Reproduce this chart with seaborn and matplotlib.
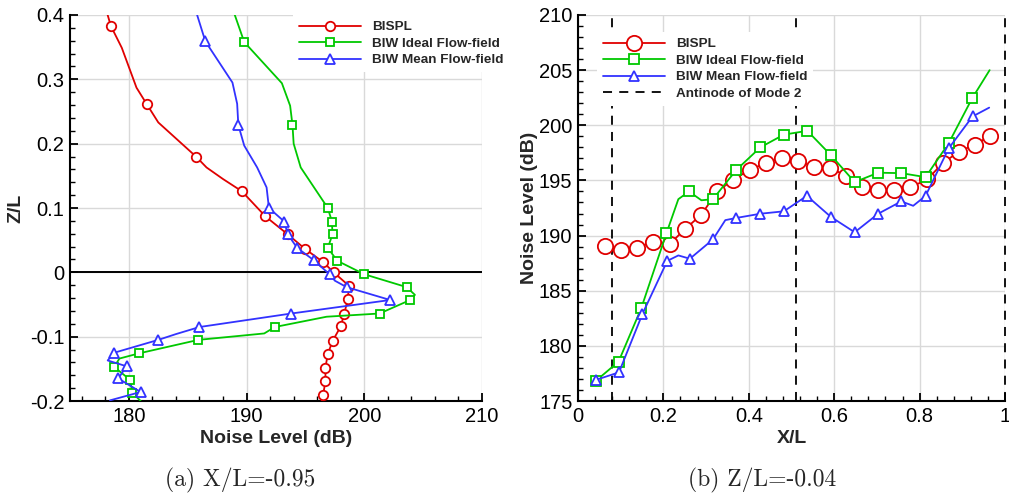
import numpy as np
import pandas as pd
import matplotlib
matplotlib.use("Agg")
import matplotlib.pyplot as plt
import seaborn as sns
from matplotlib.lines import Line2D
from matplotlib.ticker import MultipleLocator, FuncFormatter

# ---------------- data: panel (a) X/L=-0.95 (noise level vs Z/L) ----------------
bispl_a_noise = [178.2, 178.47, 179.4, 180.65, 181.5, 182.5, 185.7, 186.6, 188.0, 189.6, 191.6, 193.5,
                 195.0, 196.5, 197.4, 198.7, 198.6, 198.3, 198.0, 197.3, 196.9, 196.7, 196.7, 196.5, 196.4]
bispl_a_z = [0.40, 0.383, 0.349, 0.287, 0.262, 0.233, 0.180, 0.163, 0.145, 0.126, 0.087, 0.059,
             0.036, 0.016, 0.0, -0.021, -0.042, -0.064, -0.084, -0.107, -0.127, -0.148, -0.169, -0.191, -0.20]
bispl_a_marks = [1, 4, 6, 9, 10, 11, 12, 13, 14, 15, 16, 17, 18, 19, 20, 21, 22, 23]

ideal_a_noise = [189.0, 189.8, 193.0, 193.7, 193.9, 194.0, 194.6, 196.9, 197.25, 197.3, 196.9, 197.7, 200.0,
                 203.6, 204.3, 203.9, 201.3, 196.8, 192.4, 191.5, 185.9, 180.85, 179.2, 178.75, 180.1, 180.3, 181.0]
ideal_a_z = [0.40, 0.358, 0.294, 0.259, 0.229, 0.20, 0.163, 0.100, 0.079, 0.059, 0.038, 0.018, -0.003,
             -0.023, -0.035, -0.043, -0.064, -0.069, -0.085, -0.095, -0.105, -0.126, -0.134, -0.147, -0.167, -0.187, -0.20]
ideal_a_marks = [1, 4, 7, 8, 9, 10, 11, 12, 13, 15, 16, 18, 20, 21, 23, 24, 25]

mean_a_noise = [185.8, 186.5, 188.8, 189.2, 189.3, 189.8, 190.9, 191.7, 191.9, 193.2, 193.5, 194.3, 195.7,
                197.05, 197.5, 198.5, 202.2, 193.8, 186.0, 184.0, 182.5, 178.75, 178.2, 179.8, 179.1, 181.0, 178.4]
mean_a_z = [0.40, 0.359, 0.295, 0.262, 0.229, 0.197, 0.163, 0.132, 0.100, 0.079, 0.059, 0.038, 0.019,
            -0.003, -0.013, -0.023, -0.043, -0.064, -0.085, -0.096, -0.105, -0.125, -0.137, -0.146, -0.165, -0.186, -0.199]
mean_a_marks = [1, 4, 8, 9, 10, 11, 12, 13, 15, 16, 17, 18, 20, 21, 23, 24, 25]

# ---------------- data: panel (b) Z/L=-0.04 (noise level vs X/L) ----------------
bispl_b_x = [0.0625, 0.1016, 0.138, 0.176, 0.215, 0.251, 0.289, 0.326, 0.363, 0.402, 0.44, 0.477, 0.515,
             0.552, 0.589, 0.628, 0.666, 0.703, 0.740, 0.778, 0.818, 0.855, 0.892, 0.929, 0.966]
bispl_b_noise = [189.02, 188.66, 188.9, 189.4, 189.25, 190.6, 191.9, 194.0, 195.05, 195.96, 196.56, 197.04, 196.8,
                 196.2, 196.14, 195.44, 194.4, 194.1, 194.1, 194.36, 195.1, 196.6, 197.6, 198.25, 199.06]

ideal_b_x = [0.041, 0.095, 0.148, 0.207, 0.235, 0.26, 0.289, 0.316, 0.371, 0.427, 0.482, 0.537, 0.592,
             0.648, 0.703, 0.757, 0.814, 0.868, 0.923, 0.964]
ideal_b_noise = [176.8, 178.57, 183.4, 190.2, 193.3, 194.0, 193.2, 193.3, 195.96, 198.0, 199.15, 199.5, 197.3,
                 194.85, 195.7, 195.66, 195.3, 198.37, 202.44, 205.0]
ideal_b_marks = [0, 1, 2, 3, 5, 7, 8, 9, 10, 11, 12, 13, 14, 15, 16, 17, 18]

mean_b_x = [0.041, 0.096, 0.151, 0.209, 0.235, 0.262, 0.316, 0.345, 0.371, 0.427, 0.482, 0.536, 0.592,
            0.648, 0.703, 0.757, 0.785, 0.814, 0.868, 0.924, 0.963]
mean_b_noise = [176.9, 177.6, 182.9, 187.7, 188.2, 187.9, 189.65, 191.4, 191.6, 191.98, 192.2, 193.6, 191.7,
                190.3, 191.98, 193.1, 192.7, 193.6, 197.9, 200.8, 201.6]
mean_b_marks = [0, 1, 2, 3, 5, 6, 8, 9, 10, 11, 12, 13, 14, 15, 17, 18, 19]

antinode_x = [0.08, 0.51, 1.0]

labels = ["BISPL", "BIW Ideal Flow-field", "BIW Mean Flow-field"]
antinode_label = "Antinode of Mode 2"

# ---------------- style ----------------
sns.set_theme(style="ticks")
plt.rcParams["font.family"] = ["Liberation Sans", "DejaVu Sans"]
plt.rcParams["axes.unicode_minus"] = False

RED, GREEN, BLUE = "#e00000", "#00c800", "#3232ff"
LW, MEW = 1.3, 1.3
TICK_FS = 14.5
LAB_FS = 14
LEG_FS = 9.7

fig = plt.figure(figsize=(10.09, 4.98), dpi=100)
W, H = 1009, 498
axL = fig.add_axes([70 / W, 1 - 401 / H, 412 / W, 386 / H])
axR = fig.add_axes([578 / W, 1 - 401 / H, 427 / W, 386 / H])


def draw(ax, x, y, color, marker, ms, marks):
    sns.lineplot(x=x, y=y, ax=ax, sort=False, estimator=None, color=color, lw=LW,
                 marker=marker, markersize=ms, markerfacecolor="white", markeredgecolor=color,
                 markeredgewidth=MEW, markevery=marks, legend=False, zorder=3)


# ---- panel (a)
axL.axhline(0, color="black", lw=1.4, zorder=1.5)
draw(axL, bispl_a_noise, bispl_a_z, RED, "o", 6.8, bispl_a_marks)
draw(axL, ideal_a_noise, ideal_a_z, GREEN, "s", 5.7, ideal_a_marks)
draw(axL, mean_a_noise, mean_a_z, BLUE, "^", 6.8, mean_a_marks)
axL.set_xlim(175, 210)
axL.set_ylim(-0.2, 0.4)
axL.xaxis.set_major_locator(MultipleLocator(10))
axL.xaxis.set_minor_locator(MultipleLocator(2))
axL.yaxis.set_major_locator(MultipleLocator(0.1))
axL.yaxis.set_minor_locator(MultipleLocator(0.02))

# ---- panel (b)
for xv in antinode_x:
    axR.axvline(xv, color="black", lw=1.3, ls=(0, (5, 4)), zorder=2.5, clip_on=False)
draw(axR, bispl_b_x, bispl_b_noise, RED, "o", 11, list(range(len(bispl_b_x))))
draw(axR, ideal_b_x, ideal_b_noise, GREEN, "s", 7, ideal_b_marks)
draw(axR, mean_b_x, mean_b_noise, BLUE, "^", 7.5, mean_b_marks)
axR.set_xlim(0, 1)
axR.set_ylim(175, 210)
axR.xaxis.set_major_locator(MultipleLocator(0.2))
axR.xaxis.set_minor_locator(MultipleLocator(0.04))
axR.yaxis.set_major_locator(MultipleLocator(5))
axR.yaxis.set_minor_locator(MultipleLocator(1))

fmt = FuncFormatter(lambda v, p: ("%g" % round(v, 6)).replace("\u2212", "-"))
for ax in (axL, axR):
    ax.xaxis.set_major_formatter(fmt)
    ax.yaxis.set_major_formatter(fmt)
    ax.set_facecolor("white")
    ax.grid(True, which="major", color="#d9d9d9", lw=1.0)
    ax.set_axisbelow(True)
    for s in ("top", "right"):
        ax.spines[s].set_visible(False)
    for s in ("left", "bottom"):
        ax.spines[s].set_color("black")
        ax.spines[s].set_linewidth(1.5)
    ax.tick_params(which="both", direction="in", top=False, right=False, colors="black",
                   labelsize=TICK_FS, pad=4)
    ax.tick_params(which="major", length=6, width=1.3)
    ax.tick_params(which="minor", length=3.5, width=1.0)

axL.set_xlabel("Noise Level (dB)", fontsize=LAB_FS, fontweight="bold", labelpad=3)
axL.set_ylabel("Z/L", fontsize=LAB_FS, fontweight="bold", labelpad=4)
axR.set_xlabel("X/L", fontsize=LAB_FS, fontweight="bold", labelpad=3)
axR.set_ylabel("Noise Level (dB)", fontsize=LAB_FS, fontweight="bold", labelpad=1)


def proxy(color, marker, ms):
    return Line2D([], [], color=color, lw=LW, marker=marker, markersize=ms,
                  markerfacecolor="white", markeredgecolor=color, markeredgewidth=MEW)


leg_kw = dict(loc="upper left", bbox_transform=fig.transFigure, frameon=True, facecolor="white",
              edgecolor="none", framealpha=1, fancybox=False, prop=dict(weight="bold", size=LEG_FS),
              handlelength=4.6, handletextpad=0.8, labelspacing=0.3, borderpad=0.45, borderaxespad=0,
              numpoints=1)

hL = [proxy(RED, "o", 6.8), proxy(GREEN, "s", 5.7), proxy(BLUE, "^", 6.8)]
legL = axL.legend(hL, labels, bbox_to_anchor=(293 / W, 1 - 15 / H), **leg_kw)
legL.set_zorder(5)

hR = [proxy(RED, "o", 11), proxy(GREEN, "s", 7), proxy(BLUE, "^", 7.5),
      Line2D([], [], color="black", lw=1.3, ls=(0, (5, 4)))]
legR = axR.legend(hR, labels + [antinode_label], bbox_to_anchor=(597 / W, 1 - 32 / H), **leg_kw)
legR.set_zorder(5)

cap_font = ["cmr10", "DejaVu Serif"]
fig.text(240 / W, 1 - 480 / H, "(a) X/L=-0.95", ha="center", va="center", family=cap_font, size=17)
fig.text(762 / W, 1 - 480 / H, "(b) Z/L=-0.04", ha="center", va="center", family=cap_font, size=17)

fig.savefig("out.png", dpi=100, facecolor="white")
